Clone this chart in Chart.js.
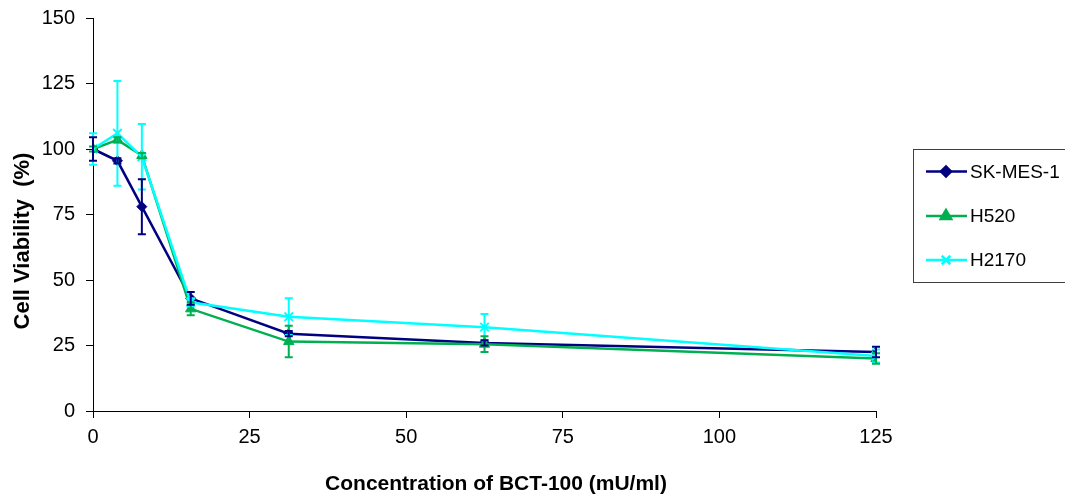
<!DOCTYPE html>
<html>
<head>
<meta charset="utf-8">
<script src="https://cdn.jsdelivr.net/npm/chart.js@4/dist/chart.umd.min.js"></script>
<style>
  html, body { margin: 0; padding: 0; background: #fff; }
  #wrap { width: 1065px; height: 495px; position: relative; }
</style>
</head>
<body>
<div id="wrap"><canvas id="c" width="1065" height="495"></canvas></div>
<script>
// concentrations (mU/ml)
const doses = [0, 3.9, 7.8, 15.6, 31.25, 62.5, 125];
const yTicks = [0, 25, 50, 75, 100, 125, 150];
const xTicks = [0, 25, 50, 75, 100, 125];

// cell viability (%) and +/- error per line
const skmes1 = [100, 95.5, 78, 43, 29.5, 26, 22.5];
const skmes1Err = [4.5, 1, 10.5, 2.4, 1, 1, 2];
const h520 = [100, 103.5, 97.5, 39, 26.5, 25.5, 20];
const h520Err = [1, 1, 1, 2.5, 6, 3, 2];
const h2170 = [100, 106, 97, 41.5, 36, 32, 21];
const h2170Err = [6, 20, 12.5, 1.5, 7, 5, 2.5];

const NAVY = '#000080';
const GREEN = '#00b050';
const CYAN = '#00ffff';
const FONT = "'Liberation Sans', Arial, sans-serif";

const series = [
    { label: 'SK-MES-1', values: skmes1, err: skmes1Err, color: NAVY, style: 'rectRot', radius: 5, order: 2 },
    { label: 'H520', values: h520, err: h520Err, color: GREEN, style: 'triangle', radius: 6, order: 1 },
    { label: 'H2170', values: h2170, err: h2170Err, color: CYAN, style: 'crossRot', radius: 6, order: 0 }
];

// draws the symmetric error bars through the chart's own scales
const errorBars = {
    id: 'errorBars',
    afterDatasetsDraw(chart) {
        const { ctx, scales: { x, y } } = chart;
        ctx.save();
        series.slice().reverse().forEach(s => {
            ctx.strokeStyle = s.color;
            ctx.lineWidth = 2;
            doses.forEach((d, i) => {
                const px = x.getPixelForValue(d);
                const top = y.getPixelForValue(s.values[i] + s.err[i]);
                const bot = y.getPixelForValue(s.values[i] - s.err[i]);
                ctx.beginPath();
                ctx.moveTo(px, top); ctx.lineTo(px, bot);
                ctx.moveTo(px - 4, top); ctx.lineTo(px + 4, top);
                ctx.moveTo(px - 4, bot); ctx.lineTo(px + 4, bot);
                ctx.stroke();
            });
        });
        ctx.restore();
    }
};

// axis titles sit a bit off-centre in the original, so they are drawn here
const axisTitles = {
    id: 'axisTitles',
    afterDraw(chart) {
        const ctx = chart.ctx;
        ctx.save();
        ctx.fillStyle = '#000';
        ctx.textAlign = 'center';
        ctx.textBaseline = 'middle';
        ctx.font = 'bold 21px ' + FONT;
        ctx.fillText('Concentration of BCT-100 (mU/ml)', 496, 484);
        ctx.translate(23, 241);
        ctx.rotate(-Math.PI / 2);
        ctx.font = 'bold 22px ' + FONT;
        ctx.fillText('Cell Viability  (%)', 0, 0);
        ctx.restore();
    }
};

// boxed legend on the right, like the original
const boxLegend = {
    id: 'boxLegend',
    afterDraw(chart) {
        const ctx = chart.ctx;
        ctx.save();
        ctx.strokeStyle = '#404040';
        ctx.lineWidth = 1;
        ctx.strokeRect(913.5, 149.5, 160, 133);
        ctx.font = '19px ' + FONT;
        ctx.textBaseline = 'middle';
        const rows = [171.5, 216, 260];
        series.forEach((s, i) => {
            const yy = rows[i];
            ctx.strokeStyle = s.color;
            ctx.lineWidth = 2.5;
            ctx.beginPath();
            ctx.moveTo(926, yy); ctx.lineTo(967, yy);
            ctx.stroke();
            Chart.helpers.drawPoint(ctx, {
                pointStyle: s.style, radius: s.radius, borderWidth: 1.5, rotation: 0
            }, 946, yy);
            ctx.fillStyle = s.color;
            ctx.fill();
            ctx.fillStyle = '#000';
            ctx.fillText(s.label, 970, yy + 1);
        });
        ctx.restore();
    }
};

const datasets = series.map(s => ({
    label: s.label,
    data: doses.map((d, i) => ({ x: d, y: s.values[i] })),
    borderColor: s.color,
    backgroundColor: s.color,
    borderWidth: 2.5,
    pointStyle: s.style,
    pointRadius: s.radius,
    pointBorderWidth: s.style === 'crossRot' ? 2 : 1,
    tension: 0,
    order: s.order
}));

new Chart(document.getElementById('c'), {
    type: 'line',
    data: { datasets },
    plugins: [errorBars, axisTitles, boxLegend],
    options: {
        responsive: false,
        animation: false,
        layout: { padding: { top: 18, right: 189, left: 0, bottom: 0 } },
        plugins: { legend: { display: false }, tooltip: { enabled: false } },
        scales: {
            x: {
                type: 'linear',
                min: 0, max: 125,
                afterFit: sc => { sc.height = 84; },
                afterBuildTicks: sc => { sc.ticks = xTicks.map(v => ({ value: v })); },
                grid: { drawOnChartArea: false, drawTicks: true, tickLength: 7, color: '#000' },
                border: { color: '#000', width: 1 },
                ticks: { color: '#000', font: { family: FONT, size: 20 }, padding: 7, maxRotation: 0 }
            },
            y: {
                min: 0, max: 150,
                afterFit: sc => { sc.width = 93; sc.paddingTop = 0; sc.paddingBottom = 0; },
                afterBuildTicks: sc => { sc.ticks = yTicks.map(v => ({ value: v })); },
                grid: { drawOnChartArea: false, drawTicks: true, tickLength: 7, color: '#000' },
                border: { color: '#000', width: 1 },
                ticks: { color: '#000', font: { family: FONT, size: 20 }, padding: 11 }
            }
        }
    }
});
</script>
</body>
</html>
